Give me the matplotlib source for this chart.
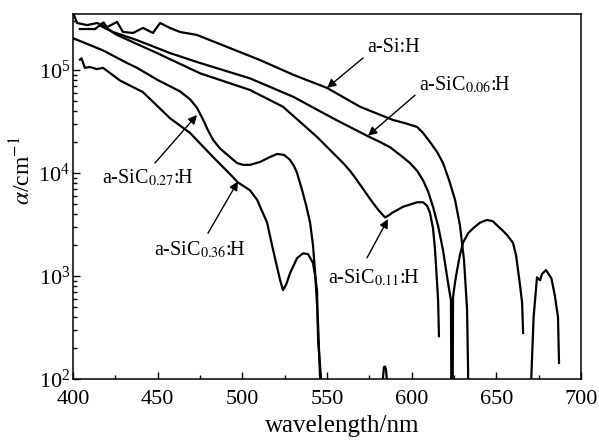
"""
Absorption coefficient of a-Si:H and a-SiC:H films vs wavelength (log scale).
Values read off the published figure.
"""

import matplotlib

matplotlib.use("Agg")
import matplotlib.pyplot as plt
from matplotlib.ticker import LogLocator, MultipleLocator

plt.rcParams["font.family"] = ["Liberation Serif", "DejaVu Serif"]
plt.rcParams["mathtext.fontset"] = "stix"

# a-Si:H (noisy start, drops out at ~633 nm, fringe 670-688 nm)
si_wl = [400.6, 402.4, 408.3, 414.2, 420.1, 426.0, 429.5, 435.4, 441.3, 447.2,
         451.4, 457.3, 463.2, 473.2, 490.0, 510.4, 530.0, 550.0, 569.5, 589.0,
         596.0, 603.2, 606.7, 610.8, 615.0, 618.5, 622.1, 625.6, 628.5, 630.9,
         632.7, 633.3, 633.6,
         670.3, 670.6, 672.0, 674.0, 675.8, 677.0, 679.3, 682.5, 684.5, 686.4, 687.0]
si_a = [3.4e5, 2.86e5, 2.73e5, 2.86e5, 2.61e5, 2.93e5, 2.34e5, 2.29e5, 2.56e5, 2.29e5,
        2.86e5, 2.56e5, 2.34e5, 2.19e5, 1.7e5, 1.25e5, 9.0e4, 6.7e4, 4.4e4, 3.27e4,
        3.05e4, 2.8e4, 2.45e4, 2.0e4, 1.6e4, 1.25e4, 8.5e3, 5.5e3, 3.1e3, 1.43e3,
        4.7e2, 1.2e2, 1.0,
        1.0, 1.0e2, 4.0e2, 9.7e2, 9.1e2, 1.05e3, 1.14e3, 9.5e2, 6.5e2, 4.0e2, 1.43e2]

# a-SiC0.06:H (dips out at ~624 nm, fringe up to 666 nm)
c06_wl = [404.0, 413.0, 418.0, 420.7, 423.6, 437.8, 457.3, 475.0, 504.5, 530.0,
          555.0, 573.6, 581.3, 587.2, 593.1, 599.0, 603.2, 606.7, 609.7, 612.6,
          615.6, 618.5, 621.5, 623.2, 623.8,
          624.4, 625.6, 626.8, 628.5, 630.3, 633.3, 636.2, 640.4, 644.5, 648.0,
          650.4, 653.4, 656.3, 658.0, 659.8, 661.6, 662.8, 664.0, 665.2, 665.8]
c06_a = [2.5e5, 2.5e5, 2.9e5, 2.5e5, 2.34e5, 1.95e5, 1.46e5, 1.17e5, 8.3e4, 5.5e4,
         3.3e4, 2.3e4, 2.0e4, 1.78e4, 1.5e4, 1.25e4, 1.05e4, 8.5e3, 6.6e3, 4.7e3,
         3.06e3, 1.78e3, 8.5e2, 5.8e2, 1.0,
         6.2e2, 8.7e2, 1.14e3, 1.6e3, 2.1e3, 2.6e3, 2.9e3, 3.3e3, 3.5e3, 3.4e3,
         3.1e3, 2.8e3, 2.5e3, 2.3e3, 2.1e3, 1.6e3, 1.14e3, 8.1e2, 5.5e2, 2.8e2]

# a-SiC0.11:H
c11_wl = [416.0, 422.0, 426.0, 450.0, 475.0, 504.5, 524.0, 544.1, 559.5, 563.6,
          567.7, 572.4, 577.2, 580.7, 584.3, 586.6, 588.4, 594.9, 603.2, 606.7,
          609.1, 610.8, 612.6, 613.8, 615.6, 616.1]
c11_a = [2.7e5, 2.4e5, 2.19e5, 1.45e5, 9.3e4, 6.4e4, 4.4e4, 2.24e4, 1.25e4, 1.05e4,
         8.5e3, 6.6e3, 5.1e3, 4.3e3, 3.7e3, 3.9e3, 4.1e3, 4.7e3, 5.2e3, 5.2e3,
         4.8e3, 4.1e3, 2.9e3, 1.78e3, 5.8e2, 2.6e2]

# a-SiC0.27:H
c27_wl = [400.0, 417.7, 431.9, 437.8, 450.0, 463.2, 469.1, 473.2, 476.8, 479.7,
          482.7, 486.8, 492.7, 496.9, 500.4, 504.5, 510.4, 516.3, 520.5, 524.6,
          528.0, 530.5, 532.3, 535.3, 537.6, 540.0, 541.7, 543.0, 544.7, 545.9]
c27_a = [2.04e5, 1.55e5, 1.17e5, 1.05e5, 8.0e4, 6.2e4, 5.2e4, 4.3e4, 3.3e4, 2.6e4,
         2.1e4, 1.73e4, 1.43e4, 1.25e4, 1.2e4, 1.2e4, 1.28e4, 1.43e4, 1.53e4, 1.5e4,
         1.35e4, 1.17e4, 1.0e4, 6.8e3, 4.9e3, 3.3e3, 2.0e3, 1.07e3, 3.5e2, 1.0e2]

# a-SiC0.36:H (plus the small fringe near 584 nm)
c36_wl = [404.1, 405.0, 407.0, 410.0, 414.0, 417.7, 423.6, 427.8, 441.3, 457.3,
          469.1, 482.7, 494.5, 497.4, 504.5, 508.7, 514.6, 517.5, 520.5, 522.3,
          524.0, 525.8, 528.2, 532.3, 535.8, 538.8, 541.7, 543.0, 544.1, 544.7,
          546.5, 546.8,
          582.6, 583.0, 583.6, 584.2, 584.8, 585.3]
c36_a = [1.26e5, 1.3e5, 1.05e5, 1.07e5, 1.02e5, 1.05e5, 8.9e4, 7.9e4, 6.1e4, 3.4e4,
         2.45e4, 1.43e4, 9.1e3, 8.1e3, 6.8e3, 5.5e3, 3.3e3, 2.0e3, 1.22e3, 9.1e2,
         7.3e2, 8.2e2, 1.07e3, 1.49e3, 1.66e3, 1.63e3, 1.34e3, 1.0e3, 7.3e2, 2.4e2,
         1.0e2, 1.0,
         1.0, 1.0e2, 1.3e2, 1.32e2, 1.25e2, 1.0e2]

SERIES = [
    (si_wl, si_a),
    (c06_wl, c06_a),
    (c11_wl, c11_a),
    (c27_wl, c27_a),
    (c36_wl, c36_a),
]

# label text, text position, arrow tail, arrow tip (data coords)
LABELS = [
    ("a-Si:H", (589.0, 1.64e5), (571.3, 1.31e5), (550.0, 6.7e4)),
    ("a-SiC$_{0.06}$:H", (631.5, 7.1e4), (602.0, 5.7e4), (574.2, 2.3e4)),
    ("a-SiC$_{0.27}$:H", (444.3, 8.9e3), (448.4, 1.25e4), (473.2, 3.66e4)),
    ("a-SiC$_{0.36}$:H", (475.0, 1.78e3), (479.7, 2.6e3), (497.4, 8.3e3)),
    ("a-SiC$_{0.11}$:H", (577.8, 9.5e2), (573.6, 1.5e3), (586.0, 3.57e3)),
]


def main() -> None:
    fig = plt.figure(figsize=(5.99, 4.41), dpi=100)
    ax = fig.add_axes([0.1219, 0.1406, 0.8481, 0.8277])

    for wl, a in SERIES:
        ax.plot(wl, a, color="black", linewidth=1.6, solid_joinstyle="round")

    ax.set_yscale("log")
    ax.set_xlim(400, 700)
    ax.set_ylim(1e2, 3.5e5)

    for text, txt_xy, tail, tip in LABELS:
        ax.text(txt_xy[0], txt_xy[1], text, fontsize=14.5, ha="center", va="center")
        ax.annotate(
            "",
            xy=tip,
            xytext=tail,
            arrowprops=dict(arrowstyle="-|>", color="black", lw=1.0,
                            mutation_scale=13, shrinkA=0, shrinkB=0),
        )

    ax.xaxis.set_major_locator(MultipleLocator(50))
    ax.xaxis.set_minor_locator(MultipleLocator(25))
    ax.yaxis.set_major_locator(LogLocator(base=10))
    ax.yaxis.set_minor_locator(LogLocator(base=10, subs=range(2, 10)))
    ax.tick_params(which="both", direction="in", top=False, right=False,
                   labelsize=16, width=1.0)
    ax.tick_params(which="major", length=5)
    ax.tick_params(which="minor", length=3)
    ax.tick_params(axis="x", which="major", pad=8)
    ax.tick_params(axis="y", which="major", pad=2)
    ax.tick_params(axis="y", which="minor", labelleft=False)

    for spine in ax.spines.values():
        spine.set_linewidth(1.1)

    ax.set_xlabel("wavelength/nm", fontsize=18)
    ax.xaxis.set_label_coords(0.53, -0.098)
    ax.set_ylabel(r"$\alpha$/cm$^{-1}$", fontsize=17)
    ax.yaxis.set_label_coords(-0.075, 0.57)

    fig.savefig("out.png", dpi=100)


if __name__ == "__main__":
    main()
